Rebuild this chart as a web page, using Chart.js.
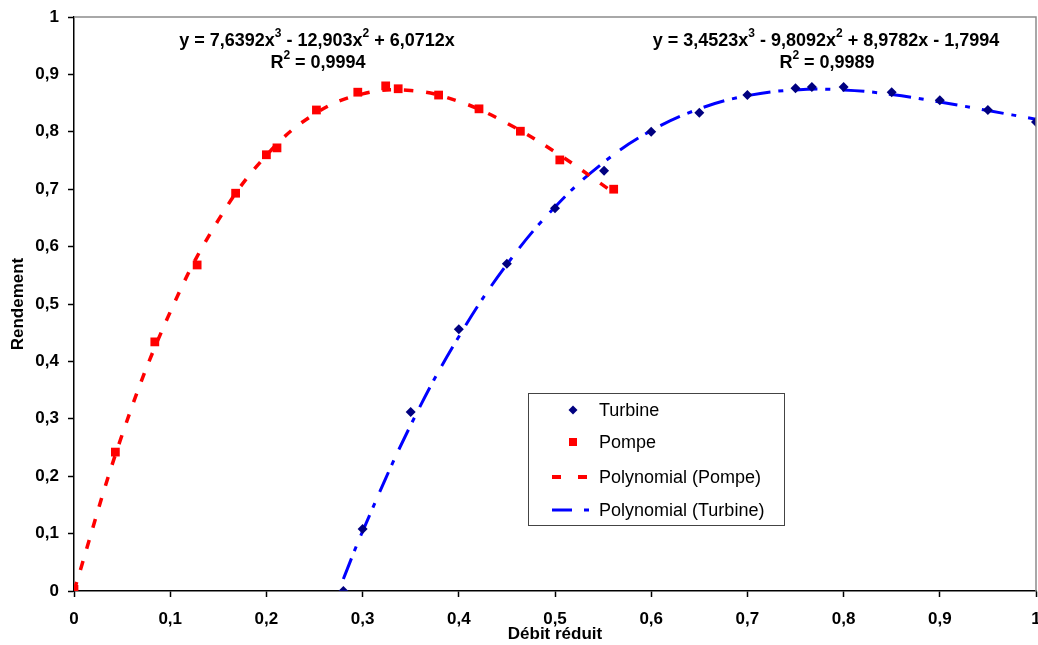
<!DOCTYPE html>
<html>
<head>
<meta charset="utf-8">
<script src="https://cdn.jsdelivr.net/npm/chart.js@4/dist/chart.umd.min.js"></script>
<style>
  body { margin: 0; background: #fff; }
  #wrap { width: 1038px; height: 645px; }
</style>
</head>
<body>
<div id="wrap"><canvas id="chart" width="1038" height="645"></canvas></div>
<script>
const turbineX = [0.28, 0.30, 0.35, 0.40, 0.45, 0.50, 0.551, 0.60, 0.65, 0.70, 0.75, 0.767, 0.80, 0.85, 0.90, 0.95, 1.0];
const turbineY = [0.0, 0.108, 0.312, 0.456, 0.570, 0.667, 0.732, 0.800, 0.833, 0.864, 0.876, 0.878, 0.878, 0.869, 0.855, 0.838, 0.817];
const pompeX = [0, 0.043, 0.084, 0.128, 0.168, 0.200, 0.211, 0.252, 0.295, 0.324, 0.337, 0.379, 0.421, 0.464, 0.505, 0.561];
const pompeY = [0.003, 0.242, 0.434, 0.568, 0.693, 0.760, 0.772, 0.838, 0.869, 0.880, 0.875, 0.864, 0.840, 0.801, 0.751, 0.700];

// Courbes de tendance
const trendPompeX = [0, 0.05, 0.10, 0.15, 0.20, 0.25, 0.30, 0.35, 0.40, 0.45, 0.50, 0.561];
const trendPompeY = [0, 0.272, 0.486, 0.646, 0.759, 0.831, 0.866, 0.872, 0.853, 0.815, 0.765, 0.694];
const trendTurbineX = [0.28, 0.30, 0.35, 0.40, 0.45, 0.50, 0.55, 0.60, 0.65, 0.70, 0.75, 0.80, 0.85, 0.90, 0.95, 1.0];
const trendTurbineY = [0.021, 0.104, 0.289, 0.443, 0.569, 0.669, 0.746, 0.802, 0.840, 0.863, 0.873, 0.873, 0.865, 0.852, 0.837, 0.822];

const xTicks = [0, 0.1, 0.2, 0.3, 0.4, 0.5, 0.6, 0.7, 0.8, 0.9, 1];
const yTicks = [0, 0.1, 0.2, 0.3, 0.4, 0.5, 0.6, 0.7, 0.8, 0.9, 1];

const toPts = (xs, ys) => xs.map((x, i) => ({ x: x, y: ys[i] }));
const fmt = v => String(Math.round(v * 10) / 10).replace(".", ",");

const FONT = "'Liberation Sans', Arial, sans-serif";

// equations + legend drawn inside the plot
const overlay = {
    id: "overlay",
    afterDraw(chart) {
        const ctx = chart.ctx;
        const a = chart.chartArea;
        ctx.save();

        // gray frame top / right
        ctx.strokeStyle = "#8c8c8c";
        ctx.lineWidth = 1.5;
        ctx.beginPath();
        ctx.moveTo(a.left, a.top);
        ctx.lineTo(a.right, a.top);
        ctx.lineTo(a.right, a.bottom);
        ctx.stroke();

        // equations with superscripts
        function rich(parts, cx, y) {
            const big = "bold 18px " + FONT, small = "bold 12px " + FONT;
            let w = 0;
            parts.forEach(p => { ctx.font = p[1] ? small : big; w += ctx.measureText(p[0]).width; });
            let x = cx - w / 2;
            ctx.fillStyle = "#000";
            ctx.textBaseline = "middle";
            ctx.textAlign = "left";
            parts.forEach(p => {
                ctx.font = p[1] ? small : big;
                ctx.fillText(p[0], x, p[1] ? y - 7 : y);
                x += ctx.measureText(p[0]).width;
            });
        }
        rich([["y = 7,6392x"], ["3", 1], [" - 12,903x"], ["2", 1], [" + 6,0712x"]], 317, 41);
        rich([["R"], ["2", 1], [" = 0,9994"]], 318, 63);
        rich([["y = 3,4523x"], ["3", 1], [" - 9,8092x"], ["2", 1], [" + 8,9782x - 1,7994"]], 826, 41);
        rich([["R"], ["2", 1], [" = 0,9989"]], 827, 63);

        // legend box
        const bx = 528, by = 393, bw = 256, bh = 132;
        ctx.fillStyle = "#fff";
        ctx.fillRect(bx, by, bw, bh);
        ctx.strokeStyle = "#444";
        ctx.lineWidth = 1;
        ctx.strokeRect(bx + 0.5, by + 0.5, bw, bh);

        const ds = chart.data.datasets;
        const rows = [410, 442, 477, 510];
        const mx = 573;
        ctx.font = "18px " + FONT;
        ctx.textBaseline = "middle";
        ctx.textAlign = "left";

        // Turbine diamond
        ctx.fillStyle = ds[0].backgroundColor;
        ctx.beginPath();
        ctx.moveTo(mx, rows[0] - 4.5); ctx.lineTo(mx + 4.5, rows[0]);
        ctx.lineTo(mx, rows[0] + 4.5); ctx.lineTo(mx - 4.5, rows[0]);
        ctx.closePath(); ctx.fill();
        // Pompe square
        ctx.fillStyle = ds[1].backgroundColor;
        ctx.fillRect(mx - 4, rows[1] - 4, 8, 8);
        // Polynomial (Pompe)
        ctx.strokeStyle = ds[2].borderColor;
        ctx.lineWidth = 4;
        ctx.beginPath();
        ctx.moveTo(552, rows[2]); ctx.lineTo(561, rows[2]);
        ctx.moveTo(578, rows[2]); ctx.lineTo(587, rows[2]);
        ctx.stroke();
        // Polynomial (Turbine)
        ctx.strokeStyle = ds[3].borderColor;
        ctx.lineWidth = 3;
        ctx.beginPath();
        ctx.moveTo(552, rows[3]); ctx.lineTo(572, rows[3]);
        ctx.moveTo(584, rows[3]); ctx.lineTo(589, rows[3]);
        ctx.stroke();

        ctx.fillStyle = "#000";
        ds.forEach((d, i) => ctx.fillText(d.label, 599, rows[i] + 1));
        ctx.restore();
    }
};

new Chart(document.getElementById("chart"), {
    type: "scatter",
    data: {
        datasets: [
            {
                label: "Turbine",
                data: toPts(turbineX, turbineY),
                pointStyle: "rectRot",
                pointRadius: 5,
                backgroundColor: "#000080",
                borderColor: "#000080",
                borderWidth: 0
            },
            {
                label: "Pompe",
                data: toPts(pompeX, pompeY),
                pointStyle: "rect",
                pointRadius: 6.2,
                backgroundColor: "#ff0000",
                borderColor: "#ff0000",
                borderWidth: 0
            },
            {
                label: "Polynomial (Pompe)",
                data: toPts(trendPompeX, trendPompeY),
                showLine: true,
                pointRadius: 0,
                borderColor: "#ff0000",
                borderWidth: 3.5,
                borderDash: [9, 13],
                tension: 0.4
            },
            {
                label: "Polynomial (Turbine)",
                data: toPts(trendTurbineX, trendTurbineY),
                showLine: true,
                pointRadius: 0,
                borderColor: "#0000ff",
                borderWidth: 3,
                borderDash: [22, 8, 5, 12],
                tension: 0.4
            }
        ]
    },
    options: {
        responsive: false,
        animation: false,
        layout: { autoPadding: false, padding: { top: 17, right: 2, left: 0, bottom: 0 } },
        plugins: {
            legend: { display: false },
            tooltip: { enabled: false }
        },
        scales: {
            x: {
                type: "linear",
                min: 0, max: 1,
                afterBuildTicks: s => { s.ticks = xTicks.map(v => ({ value: v })); },
                afterFit: s => { s.height = 54; s.paddingRight = 0; s.paddingLeft = 0; },
                grid: { drawOnChartArea: false, tickLength: 6, color: "#000", tickWidth: 1.5 },
                border: { color: "#000", width: 1.5 },
                ticks: {
                    color: "#000",
                    padding: 12,
                    maxRotation: 0,
                    font: { family: FONT, size: 17, weight: "bold" },
                    callback: fmt
                },
                title: {
                    display: true,
                    text: "Débit réduit",
                    color: "#000",
                    padding: { top: 0, bottom: 0 },
                    font: { family: FONT, size: 17, weight: "bold" }
                }
            },
            y: {
                type: "linear",
                min: 0, max: 1,
                afterBuildTicks: s => { s.ticks = yTicks.map(v => ({ value: v })); },
                afterFit: s => { s.width = 74; s.paddingTop = 0; s.paddingBottom = 0; },
                grid: { drawOnChartArea: false, tickLength: 6, color: "#000", tickWidth: 1.5 },
                border: { color: "#000", width: 1.5 },
                ticks: {
                    color: "#000",
                    padding: 9,
                    font: { family: FONT, size: 17, weight: "bold" },
                    callback: fmt
                },
                title: {
                    display: true,
                    text: "Rendement",
                    color: "#000",
                    padding: { top: 8, bottom: 0 },
                    font: { family: FONT, size: 17, weight: "bold" }
                }
            }
        }
    },
    plugins: [overlay]
});
</script>
</body>
</html>
